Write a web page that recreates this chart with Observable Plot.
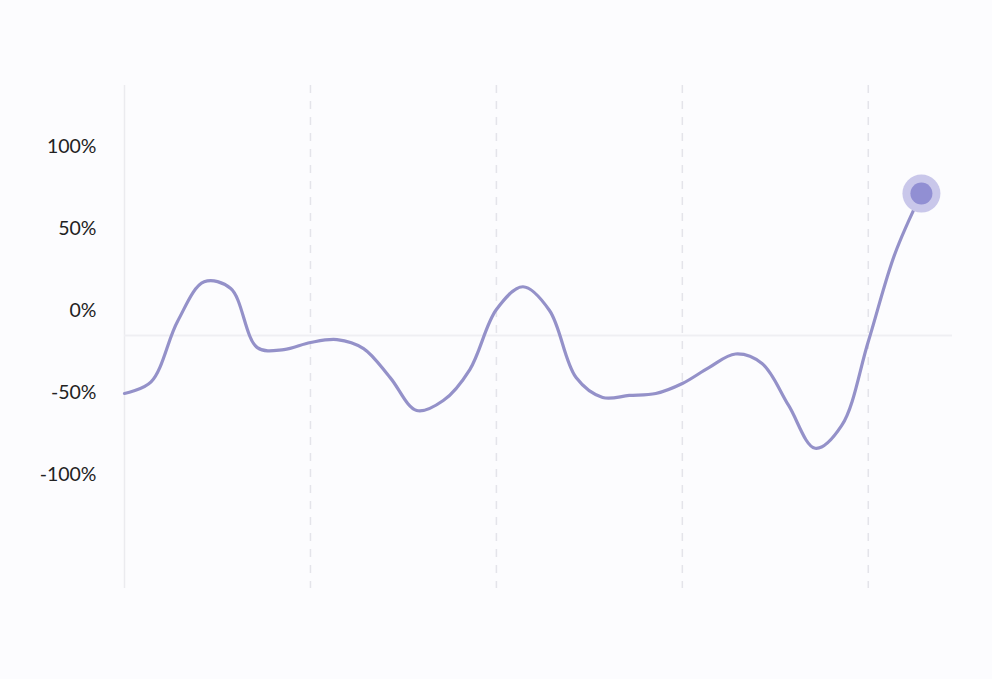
<!DOCTYPE html>
<html>
<head>
<meta charset="utf-8">
<script src="https://cdn.jsdelivr.net/npm/d3@7"></script>
<script src="https://cdn.jsdelivr.net/npm/@observablehq/plot@0.6"></script>
<style>
html, body { margin: 0; padding: 0; background: #fcfcfe; }
#chart svg { display: block; }
</style>
</head>
<body>
<div id="chart"></div>
<script>
// Day index (x) and change values in percent (y)
const days = d3.range(31);
const values = [
  -50.6, -43.5, -6.5, 17.5, 13.4, -22.6, -23.8, -19.5, -17.7, -23.2,
  -40.9, -61.0, -54.9, -36.0, 0.6, 14.5, 0.0, -40.9, -53.0, -51.8,
  -50.6, -44.5, -34.8, -26.5, -32.3, -57.9, -84.0, -70.1, -18.9, 34.5,
  71.3
];
const yTicks = [-100, -50, 0, 50, 100];
const weekTicks = [7, 14, 21, 28];
const baseline = [-15.2];

const data = days.map((d, i) => ({ day: d, value: values[i] }));
const last = [data[data.length - 1]];

const chart = Plot.plot({
  width: 992,
  height: 679,
  marginLeft: 124,
  marginRight: 40,
  marginTop: 85,
  marginBottom: 91,
  style: { background: "#fcfcfe", fontFamily: "Lato, sans-serif", fontSize: "19px", color: "#222" },
  x: { domain: [0, 31.17], axis: null },
  y: { domain: [-169.5, 137.2], axis: null },
  marks: [
    Plot.ruleX(weekTicks, { stroke: "#e4e4ea", strokeWidth: 1.5, strokeDasharray: "8,8" }),
    Plot.ruleX([0], { stroke: "#ebebef", strokeWidth: 1.5 }),
    Plot.ruleY(baseline, { stroke: "#efeff3", strokeWidth: 2 }),
    Plot.lineY(data, { x: "day", y: "value", curve: "catmull-rom", stroke: "#9491c9", strokeWidth: 3.2 }),
    Plot.dot(last, { x: "day", y: "value", r: 19, fill: "#c9c7ea" }),
    Plot.dot(last, { x: "day", y: "value", r: 11, fill: "#918fd3" }),
    Plot.axisY(yTicks, { tickSize: 0, tickPadding: 28, tickFormat: d => d + "%", label: null, fill: "#222", fontSize: 19.5 })
  ]
});
document.getElementById("chart").appendChild(chart);
</script>
</body>
</html>
